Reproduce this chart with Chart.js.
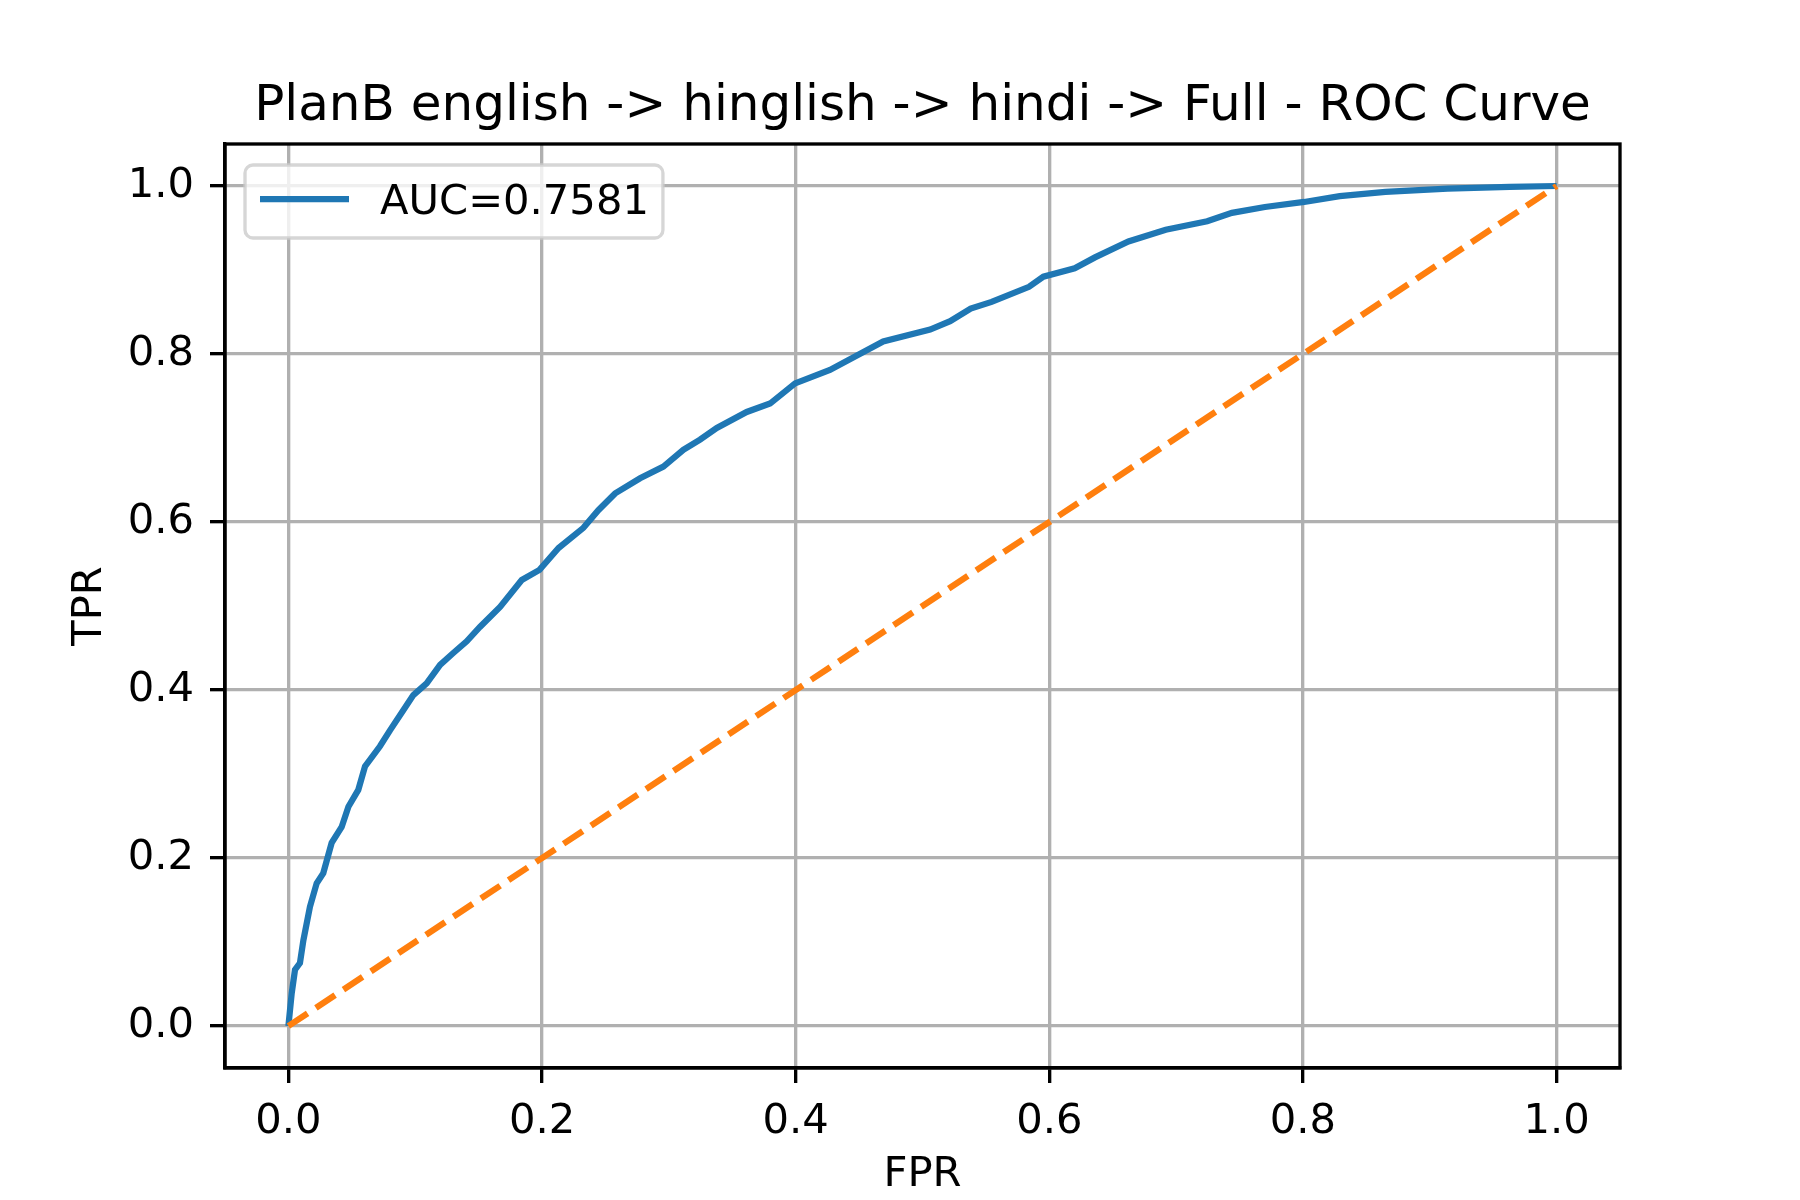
<!DOCTYPE html>
<html>
<head>
<meta charset="utf-8">
<title>PlanB ROC Curve</title>
<script src="https://cdn.jsdelivr.net/npm/chart.js@4.4.0/dist/chart.umd.min.js"></script>
<style>
  html, body { margin: 0; padding: 0; background: #ffffff; }
  canvas { display: block; }
</style>
</head>
<body>
<canvas id="rocChart" width="1800" height="1200"></canvas>
<script>
// ROC curve points
const fpr = [0, 0.0026, 0.0052, 0.0091, 0.0118, 0.017, 0.0223, 0.0275, 0.0341, 0.042,
  0.0473, 0.0551, 0.0604, 0.0722, 0.0801, 0.0906, 0.0985, 0.109, 0.1196, 0.130,
  0.1406, 0.151, 0.1669, 0.184, 0.198, 0.213, 0.2326, 0.2444, 0.2576, 0.2773,
  0.2957, 0.3114, 0.3246, 0.3378, 0.3614, 0.3798, 0.3995, 0.427, 0.4494, 0.469,
  0.506, 0.5218, 0.538, 0.5545, 0.584, 0.5953, 0.620, 0.636, 0.6624, 0.6918,
  0.7245, 0.744, 0.770, 0.801, 0.829, 0.865, 0.914, 0.963, 1.0];
const tpr = [0, 0.039, 0.067, 0.075, 0.102, 0.142, 0.170, 0.182, 0.218, 0.237,
  0.261, 0.281, 0.309, 0.333, 0.352, 0.376, 0.394, 0.408, 0.430, 0.444,
  0.458, 0.475, 0.499, 0.531, 0.543, 0.569, 0.593, 0.614, 0.634, 0.652,
  0.666, 0.686, 0.698, 0.712, 0.731, 0.741, 0.765, 0.781, 0.799, 0.815,
  0.829, 0.839, 0.854, 0.862, 0.880, 0.892, 0.902, 0.915, 0.934, 0.948,
  0.958, 0.968, 0.975, 0.981, 0.988, 0.993, 0.997, 0.999, 1.0];

// chance line
const diagX = [0, 1];
const diagY = [0, 1];

const xTicks = [0, 0.2, 0.4, 0.6, 0.8, 1.0];
const yTicks = [0, 0.2, 0.4, 0.6, 0.8, 1.0];

const aucLabel = "AUC=0.7581";
const chartTitle = "PlanB english -> hinglish -> hindi -> Full - ROC Curve";

const FONT = "'DejaVu Sans', 'Liberation Sans', sans-serif";
const LW = 3.33; // 0.8pt at 300 dpi

function toPoints(xs, ys) {
  let pts = [];
  for (let i = 0; i < xs.length; i++) {
    pts.push({ x: xs[i], y: ys[i] });
  }
  return pts;
}

// top and right spines (Chart.js only draws one border per axis)
const framePlugin = {
  id: "frame",
  afterDatasetsDraw(chart) {
    const a = chart.chartArea;
    const ctx = chart.ctx;
    ctx.save();
    ctx.strokeStyle = "#000000";
    ctx.lineWidth = LW;
    ctx.strokeRect(a.left, a.top, a.right - a.left, a.bottom - a.top);
    ctx.restore();
  }
};

// matplotlib-like legend box in the upper left corner
const boxLegend = {
  id: "boxLegend",
  afterDraw(chart) {
    const ctx = chart.ctx;
    const ds = chart.data.datasets.filter(d => d.label);
    const a = chart.chartArea;
    ctx.save();
    ctx.font = "41.7px " + FONT;
    let x0 = a.left + 20, y0 = a.top + 21;
    let textW = ctx.measureText(ds[0].label).width;
    let w = 135 + textW + 14, h = 73, r = 8;
    ctx.beginPath();
    ctx.roundRect(x0, y0, w, h, r);
    ctx.fillStyle = "rgba(255,255,255,0.8)";
    ctx.fill();
    ctx.strokeStyle = "rgba(204,204,204,0.8)";
    ctx.lineWidth = LW;
    ctx.stroke();
    ds.forEach((d, i) => {
      let cy = y0 + 34 + i * 55;
      ctx.beginPath();
      ctx.moveTo(x0 + 15, cy);
      ctx.lineTo(x0 + 104, cy);
      ctx.strokeStyle = d.borderColor;
      ctx.lineWidth = d.borderWidth;
      ctx.stroke();
      ctx.fillStyle = "#000000";
      ctx.textBaseline = "alphabetic";
      ctx.fillText(d.label, x0 + 135, cy + 15);
    });
    ctx.restore();
  }
};

const ctx = document.getElementById("rocChart");

new Chart(ctx, {
  type: "line",
  data: {
    datasets: [
      {
        label: aucLabel,
        data: toPoints(fpr, tpr),
        borderColor: "#1f77b4",
        borderWidth: 6.25,
        pointRadius: 0,
        tension: 0,
        fill: false,
        order: 1,
      },
      {
        label: "",
        data: toPoints(diagX, diagY),
        borderColor: "#ff7f0e",
        borderWidth: 6.25,
        borderDash: [23, 10],
        pointRadius: 0,
        tension: 0,
        fill: false,
        order: 0,
      },
    ],
  },
  options: {
    responsive: false,
    devicePixelRatio: 1,
    animation: false,
    layout: {
      padding: { left: 0, right: 180, top: 0, bottom: 0 },
    },
    scales: {
      x: {
        type: "linear",
        min: -0.05,
        max: 1.05,
        afterBuildTicks: (scale) => {
          scale.ticks = xTicks.map(v => ({ value: v }));
        },
        afterFit: (scale) => {
          scale.height = 132;
        },
        ticks: {
          color: "#000000",
          padding: 14,
          maxRotation: 0,
          font: { size: 41.7, family: FONT },
          callback: (v) => Number(v).toFixed(1),
        },
        grid: {
          color: "#b0b0b0",
          lineWidth: LW,
          tickColor: "#000000",
          tickWidth: LW,
          tickLength: 15,
        },
        border: { display: true, color: "#000000", width: LW },
        title: {
          display: true,
          text: "FPR",
          color: "#000000",
          font: { size: 41.7, family: FONT },
          padding: { top: 0, bottom: 0 },
        },
      },
      y: {
        type: "linear",
        min: -0.05,
        max: 1.05,
        afterBuildTicks: (scale) => {
          scale.ticks = yTicks.map(v => ({ value: v }));
        },
        afterFit: (scale) => {
          scale.width = 225;
        },
        ticks: {
          color: "#000000",
          padding: 16,
          font: { size: 41.7, family: FONT },
          callback: (v) => Number(v).toFixed(1),
        },
        grid: {
          color: "#b0b0b0",
          lineWidth: LW,
          tickColor: "#000000",
          tickWidth: LW,
          tickLength: 15,
        },
        border: { display: true, color: "#000000", width: LW },
        title: {
          display: true,
          text: "TPR",
          color: "#000000",
          font: { size: 41.7, family: FONT },
          padding: { top: 65, bottom: 0 },
        },
      },
    },
    plugins: {
      legend: { display: false },
      tooltip: { enabled: false },
      title: {
        display: true,
        text: chartTitle,
        color: "#000000",
        fullSize: false,
        font: { size: 50, family: FONT, weight: "normal", lineHeight: 1.2 },
        padding: { top: 77, bottom: 7 },
      },
    },
  },
  plugins: [framePlugin, boxLegend],
});
</script>
</body>
</html>
